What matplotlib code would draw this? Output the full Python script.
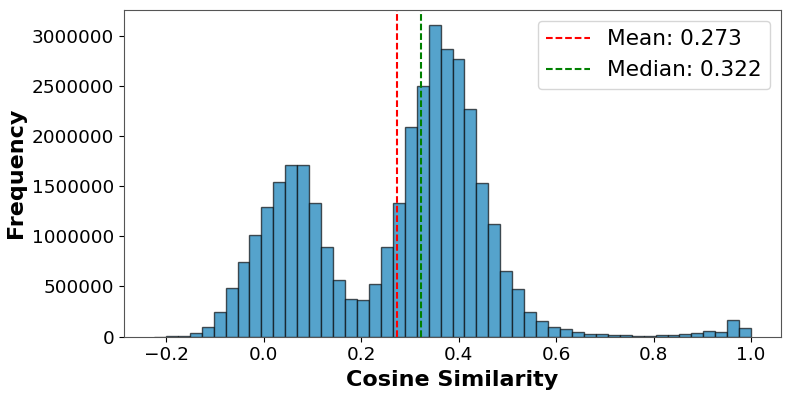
import numpy as np
import matplotlib
matplotlib.use('Agg')
import matplotlib.pyplot as plt

# histogram: 50 bins over [-0.225, 1.0]
bin_lo, bin_hi, n_bins = -0.225, 1.0, 50
counts = [
    1000, 3000, 10000, 34000, 99000, 249000, 487000, 746000, 1008000, 1287000,
    1541000, 1714000, 1707000, 1333000, 889000, 561000, 373000, 365000, 522000, 895000,
    1336000, 2085000, 2493000, 3100000, 2868000, 2768000, 2271000, 1528000, 1118000, 656000,
    477000, 246000, 153000, 99000, 74000, 44000, 30000, 24000, 20000, 14000,
    10000, 10000, 17000, 17000, 24000, 33000, 54000, 47000, 169000, 87000,
]
mean_val = 0.273
median_val = 0.322

edges = np.linspace(bin_lo, bin_hi, n_bins + 1)

fig = plt.figure(figsize=(7.93, 3.97), dpi=100)
ax = fig.add_axes([0.1564, 0.152, 0.8285, 0.823])
ax.bar(edges[:-1], counts, width=np.diff(edges), align='edge',
       color='#55a3cc', edgecolor=(0, 0, 0, 0.65), linewidth=1.0)
ax.axvline(mean_val, color='red', linestyle='--', lw=1.5, dashes=(3.2, 1.4),
           label=f'Mean: {mean_val:.3f}')
ax.axvline(median_val, color='green', linestyle='--', lw=1.5, dashes=(3.2, 1.4),
           label=f'Median: {median_val:.3f}')

ax.set_xlabel('Cosine Similarity', fontsize=16, fontweight='bold')
ax.set_ylabel('Frequency', fontsize=16, fontweight='bold')
ax.tick_params(labelsize=13.3)
ax.ticklabel_format(axis='y', style='plain')
ax.legend(fontsize=15.6, loc='upper right')
for s in ax.spines.values():
    s.set_color('#555555')

plt.savefig('out.png', dpi=100)
